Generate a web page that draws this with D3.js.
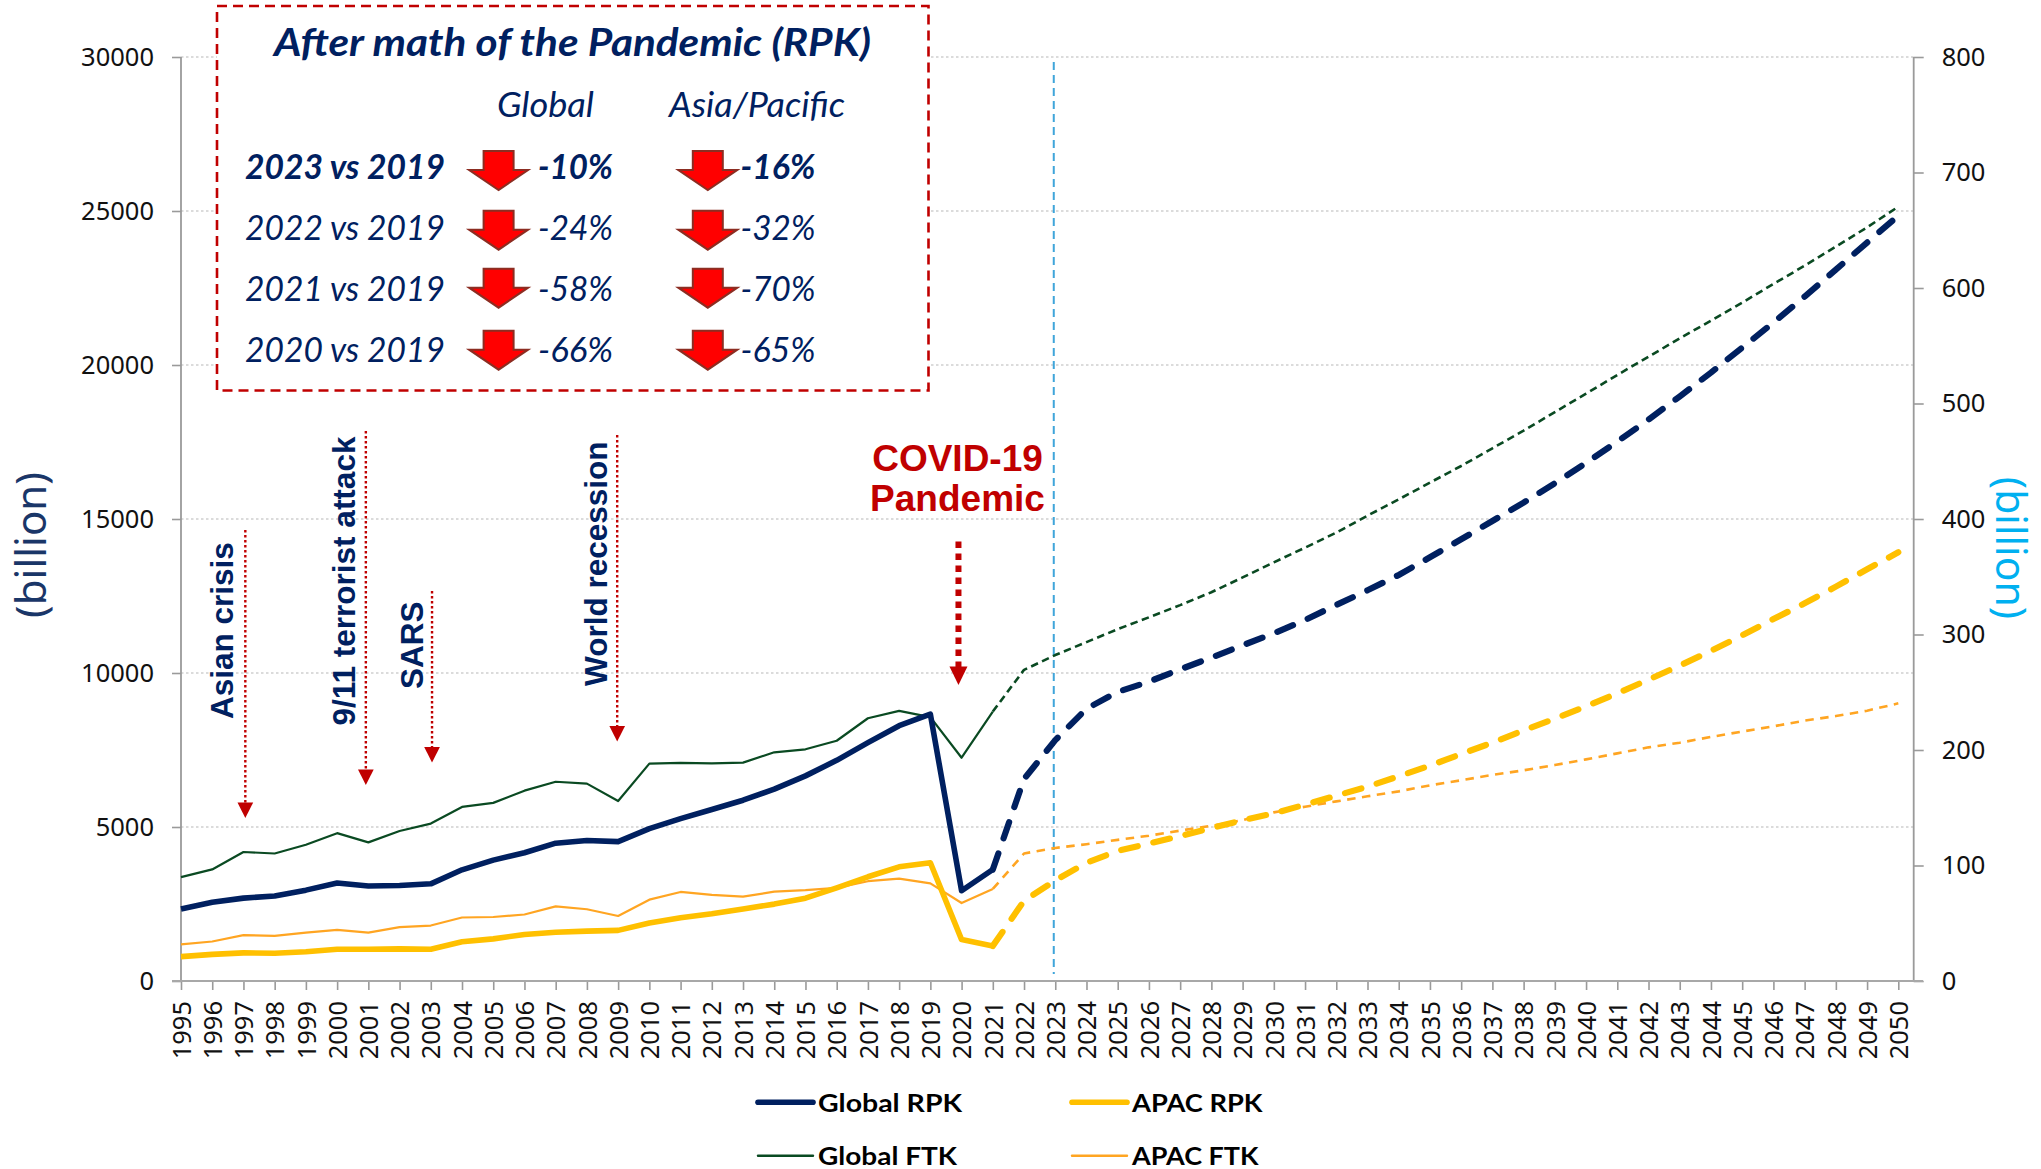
<!DOCTYPE html>
<html>
<head>
<meta charset="utf-8">
<script src="https://d3js.org/d3.v7.min.js"></script>
<style>
html, body { margin: 0; padding: 0; background: #fff; }
svg { display: block; }
.tick text { font-family: "Noto Sans", sans-serif; fill: #111; }
.tick line { stroke: #9a9a9a; stroke-width: 1.6; }
</style>
</head>
<body>
<svg width="2041" height="1169"></svg>
<script>
var years = d3.range(1995, 2051);

// left axis (billion RPK)
var globalRPK = [2340,2556,2690,2760,2950,3180,3085,3100,3155,3610,3925,4165,4475,4560,4525,4945,5270,5570,5870,6230,
    6660,7164,7740,8290,8664,2930,3620,6560,7820,8840,9385,9720,10120,10500,10900,11289,11722,12209,12685,13183,
    13757,14341,14936,15532,16159,16820,17513,18227,18979,19753,20565,21377,22221,23098,23974,24850];
var apacRPK = [792,864,912,900,948,1032,1032,1044,1032,1272,1368,1512,1584,1620,1644,1884,2052,2184,2340,2496,
    2688,3024,3384,3708,3840,1344,1140,2604,3264,3840,4224,4464,4704,4968,5220,5444,5726,6018,6310,6645,
    6992,7371,7739,8139,8518,8918,9340,9785,10240,10720,11220,11750,12263,12804,13367,13918];

// right axis (billion FTK)
var globalFTK = [89.9,96.6,111.7,110.4,118,128,120,129.9,136.3,150.7,154.2,164.8,172.5,170.9,155.8,188.2,188.8,188.5,189.1,198,
    200.6,208,227.5,233.9,228.5,193.3,233.3,269.4,282.2,293.4,304.6,314.9,325.4,336.6,349.4,362.5,375.2,388.2,402.9,417,
    431.5,445.9,461.2,476.5,492.6,508.5,524.7,540.5,556.4,571.7,587.3,603.5,619.3,635.8,652.5,670.4];
var apacFTK = [31.7,34.2,39.7,39,41.9,44.2,41.9,46.7,48,55,55.4,57.6,64.6,62.1,56.3,70.4,77.1,74.6,73,77.4,
    78.7,80.6,86.4,88.6,84.5,67.5,79.7,110.4,115.2,118.4,122.2,125.8,130.2,134.4,139.2,146,150.9,155.5,159.9,164.2,
    169.4,173.8,178.4,182.4,187,191.9,197.1,202.3,206.3,211.3,216,220.5,225.4,229.4,234,240.4];

var leftTicks = [0,5000,10000,15000,20000,25000,30000];
var rightTicks = [0,100,200,300,400,500,600,700,800];
var lastActual = 2021;

var tableTitle = "After math of the Pandemic (RPK)";
var tableRows = ["2023 vs 2019","2022 vs 2019","2021 vs 2019","2020 vs 2019"];
var tableGlobal = ["-10%","-24%","-58%","-66%"];
var tableAsia = ["-16%","-32%","-70%","-65%"];

var eventNames = ["Asian crisis","9/11 terrorist attack","SARS","World recession"];
var eventYears = [1997.06,2000.92,2003.04,2008.97];
var eventFrom = [14644,17859,12663,17729];
var eventTo = [5293,6364,7091,7777];

var svg = d3.select("svg");
var navy = "#002060", yellow = "#FFC000", green = "#0A4A22", orange = "#FFA522", red = "#C00000";

var left = 181, right = 1913.7, top_ = 57, bottom = 981;

var x = d3.scalePoint().domain(years).range([left, 1898.3]);
var xNum = d3.scaleLinear().domain([1995, 2050]).range([left, 1898.3]);
var yL = d3.scaleLinear().domain([0, 30000]).range([bottom, top_]);
var yR = d3.scaleLinear().domain([0, 800]).range([bottom, top_]);

//==================================================
// grid + axes
svg.append("g").selectAll("line").data(leftTicks.slice(1)).enter().append("line")
    .attr("x1", left).attr("x2", right)
    .attr("y1", function(d) { return yL(d); })
    .attr("y2", function(d) { return yL(d); })
    .attr("stroke", "#b8b8b8").attr("stroke-width", 1.2).attr("stroke-dasharray", "2.5,2.5");

var axL = svg.append("g").attr("transform", "translate(" + left + ",0)")
    .call(d3.axisLeft(yL).tickValues(leftTicks).tickSize(9).tickPadding(18).tickFormat(d3.format("d")));
var axR = svg.append("g").attr("transform", "translate(" + right + ",0)")
    .call(d3.axisRight(yR).tickValues(rightTicks).tickSize(10).tickPadding(18));
var axB = svg.append("g").attr("transform", "translate(0," + bottom + ")")
    .call(d3.axisBottom(x).tickSize(9).tickFormat(d3.format("d")));

[axL, axR, axB].forEach(function(a) { a.select(".domain").remove(); });
axL.selectAll("text").style("font-size", "25.5px");
axR.selectAll("text").style("font-size", "25.5px");
axB.selectAll("text")
    .style("font-size", "25.5px")
    .attr("transform", "rotate(-90)")
    .attr("text-anchor", "end")
    .attr("x", -20).attr("y", 0).attr("dy", ".36em");

svg.append("line").attr("x1", left).attr("x2", left).attr("y1", top_).attr("y2", bottom)
    .attr("stroke", "#9a9a9a").attr("stroke-width", 1.8);
svg.append("line").attr("x1", right).attr("x2", right).attr("y1", top_).attr("y2", bottom)
    .attr("stroke", "#9a9a9a").attr("stroke-width", 1.8);
svg.append("line").attr("x1", 172).attr("x2", 1923).attr("y1", bottom).attr("y2", bottom)
    .attr("stroke", "#a8a8a8").attr("stroke-width", 1.8);

svg.append("text").text("(billion)")
    .attr("transform", "translate(46,545) rotate(-90)")
    .attr("text-anchor", "middle")
    .style("font-family", "Noto Sans").style("font-size", "42px").attr("fill", "#1A3668");
svg.append("text").text("(billion)")
    .attr("transform", "translate(1996,548) rotate(90)")
    .attr("text-anchor", "middle")
    .style("font-family", "Noto Sans").style("font-size", "41px").attr("fill", "#00B0F0");

//==================================================
// forecast divider
svg.append("line")
    .attr("x1", x(2023) - 1.5).attr("x2", x(2023) - 1.5)
    .attr("y1", 62).attr("y2", 974)
    .attr("stroke", "#3FA5DA").attr("stroke-width", 2).attr("stroke-dasharray", "8,5");

//==================================================
// series, solid up to lastActual and dashed after it
function drawSeries(values, scale, color, width, dashWidth, dash) {
    var pts = years.map(function(yr, i) { return [yr, values[i]]; });
    var line = d3.line()
        .x(function(d) { return x(d[0]); })
        .y(function(d) { return scale(d[1]); })
        .curve(d3.curveLinear);
    svg.append("path")
        .attr("d", line(pts.filter(function(d) { return d[0] <= lastActual; })))
        .attr("fill", "none").attr("stroke", color).attr("stroke-width", width)
        .attr("stroke-linejoin", "round");
    svg.append("path")
        .attr("d", line(pts.filter(function(d) { return d[0] >= lastActual; })))
        .attr("fill", "none").attr("stroke", color).attr("stroke-width", dashWidth)
        .attr("stroke-linecap", width > 3 ? "round" : "butt")
        .attr("stroke-linejoin", "round")
        .attr("stroke-dasharray", dash);
}

drawSeries(globalFTK, yR, green, 2.2, 2.6, "7.5,4.5");
drawSeries(apacFTK, yR, orange, 2.2, 2.6, "8.5,6.5");
drawSeries(globalRPK, yL, navy, 5.6, 6.2, "17,16");
drawSeries(apacRPK, yL, yellow, 5.6, 6.2, "17,16");

//==================================================
// event markers
function downArrow(yr, from, to, w, h, sw, dash) {
    var px = xNum(yr), tip = yL(to);
    svg.append("line").attr("x1", px).attr("x2", px)
        .attr("y1", yL(from)).attr("y2", tip - h + 1)
        .attr("stroke", red).attr("stroke-width", sw).attr("stroke-dasharray", dash);
    svg.append("path")
        .attr("d", "M" + (px - w / 2) + "," + (tip - h) + "L" + (px + w / 2) + "," + (tip - h) + "L" + px + "," + tip + "Z")
        .attr("fill", red);
}

eventNames.forEach(function(name, i) {
    downArrow(eventYears[i], eventFrom[i], eventTo[i], 15.7, 15.5, 2.4, "2.6,2.4");
});

var eventBaseX = [232.5, 355, 422.5, 607];
var eventBaseY = [719, 725.5, 689, 686];
eventNames.forEach(function(name, i) {
    svg.append("text").text(name)
        .attr("transform", "translate(" + eventBaseX[i] + "," + eventBaseY[i] + ") rotate(-90)")
        .style("font-family", "Liberation Sans").style("font-weight", "bold").style("font-size", "31.5px")
        .attr("fill", navy);
});

downArrow(2019.9, 14270, 9611, 18, 18.5, 6, "6.5,5.5");
svg.append("text").text("COVID-19").attr("x", 957.5).attr("y", 470.7).attr("text-anchor", "middle")
    .style("font-family", "Liberation Sans").style("font-weight", "bold").style("font-size", "37px").attr("fill", red);
svg.append("text").text("Pandemic").attr("x", 957.5).attr("y", 510.7).attr("text-anchor", "middle")
    .style("font-family", "Liberation Sans").style("font-weight", "bold").style("font-size", "37px").attr("fill", red);

//==================================================
// after-math table
svg.append("rect").attr("x", 217).attr("y", 6).attr("width", 711.5).attr("height", 384.5)
    .attr("fill", "#fff").attr("stroke", red).attr("stroke-width", 2.6).attr("stroke-dasharray", "10,6");

function boxText(str, px, py, w, size, bold) {
    svg.append("text").text(str)
        .attr("x", px).attr("y", py)
        .attr("textLength", w).attr("lengthAdjust", "spacingAndGlyphs")
        .style("font-family", "Lato").style("font-style", "italic")
        .style("font-weight", bold ? "bold" : "normal").style("font-size", size + "px")
        .attr("fill", navy);
}

boxText(tableTitle, 274, 56, 597, 39, true);
boxText("Global", 497, 117, 97, 34, false);
boxText("Asia/Pacific", 669, 117, 176, 34, false);

var rowBase = [179, 240, 301, 361.7];
var arrowTop = [151, 210.7, 268.7, 330.7];

function redArrow(cx, ty) {
    var p = [[cx - 15, ty], [cx + 15, ty], [cx + 15, ty + 19], [cx + 29.5, ty + 19], [cx, ty + 39], [cx - 29.5, ty + 19], [cx - 15, ty + 19]];
    svg.append("path").attr("d", d3.line()(p) + "Z")
        .attr("fill", "#FF0000").attr("stroke", "#8C2D22").attr("stroke-width", 2).attr("stroke-linejoin", "miter");
}

tableRows.forEach(function(r, i) {
    var b = i == 0;
    boxText(r, 245, rowBase[i], 200, 34, b);
    redArrow(498.6, arrowTop[i]);
    boxText(tableGlobal[i], 538, rowBase[i], 75, 34, b);
    redArrow(707.8, arrowTop[i]);
    boxText(tableAsia[i], 740.5, rowBase[i], 75, 34, b);
});

//==================================================
// legend
var legendNames = ["Global RPK","APAC RPK","Global FTK","APAC FTK"];
var legendColors = [navy, yellow, green, orange];
var legendWidths = [5.6, 5.6, 2.4, 2.4];
var legendTextW = [144, 130.5, 139, 126.5];

legendNames.forEach(function(name, i) {
    var lx = i % 2 == 0 ? 758 : 1072;
    var ly = i < 2 ? 1102.3 : 1155.7;
    svg.append("line").attr("x1", lx).attr("x2", lx + 55).attr("y1", ly).attr("y2", ly)
        .attr("stroke", legendColors[i]).attr("stroke-width", legendWidths[i])
        .attr("stroke-linecap", "round");
    svg.append("text").text(name)
        .attr("x", lx + 60).attr("y", ly + 9.4)
        .attr("textLength", legendTextW[i]).attr("lengthAdjust", "spacingAndGlyphs")
        .style("font-family", "Lato").style("font-weight", "bold").style("font-size", "25.5px")
        .attr("fill", "#000");
});
</script>
</body>
</html>
